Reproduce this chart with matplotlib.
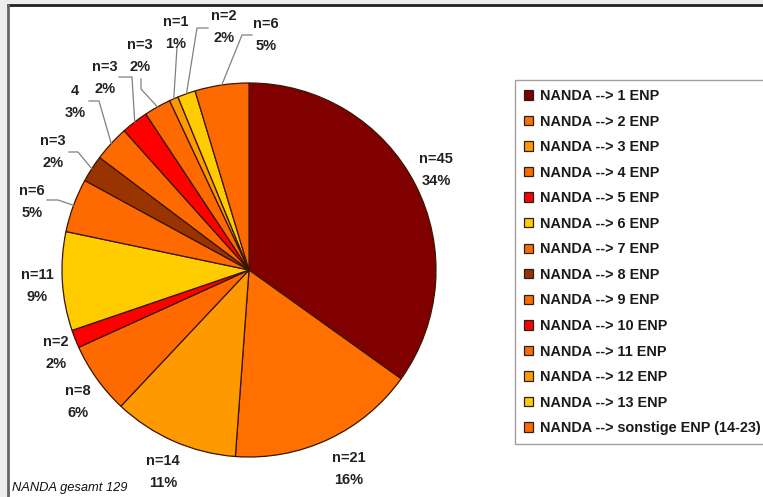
import numpy as np
import matplotlib
matplotlib.use("Agg")
import matplotlib.pyplot as plt
from matplotlib.patches import Patch, Rectangle

plt.rcParams["font.family"] = ["Liberation Sans", "DejaVu Sans"]

# NANDA -> number of ENP, counts per group
categories = ["NANDA --> 1 ENP", "NANDA --> 2 ENP", "NANDA --> 3 ENP", "NANDA --> 4 ENP",
              "NANDA --> 5 ENP", "NANDA --> 6 ENP", "NANDA --> 7 ENP", "NANDA --> 8 ENP",
              "NANDA --> 9 ENP", "NANDA --> 10 ENP", "NANDA --> 11 ENP", "NANDA --> 12 ENP",
              "NANDA --> 13 ENP", "NANDA --> sonstige ENP (14-23)"]
counts = [45, 21, 14, 8, 2, 11, 6, 3, 4, 3, 3, 1, 2, 6]
count_labels = ["n=45", "n=21", "n=14", "n=8", "n=2", "n=11", "n=6", "n=3", "4", "n=3", "n=3",
                "n=1", "n=2", "n=6"]
pct_labels = ["34%", "16%", "11%", "6%", "2%", "9%", "5%", "2%", "3%", "2%", "2%", "1%", "2%", "5%"]
colors = ["#800000", "#ff7000", "#ff9900", "#ff6a00", "#ff0000", "#ffcc00", "#ff6a00",
          "#993300", "#ff6a00", "#ff0000", "#ff6a00", "#ff9900", "#ffcc00", "#ff6a00"]

W, H = 763, 497
fig = plt.figure(figsize=(W / 100, H / 100), dpi=100)
fig.patch.set_facecolor("#eeeeee")
ax = fig.add_axes([0, 0, 1, 1])

# white plot area with dark top / left frame
ax.add_patch(Rectangle((8, -5), W, H, facecolor="white", edgecolor="none", zorder=0))
ax.plot([8, W], [H - 5, H - 5], color="#222222", lw=2, zorder=1)
ax.plot([8, 8], [0, H - 5], color="#666666", lw=2, zorder=1)

cx, cy, r = 249, H - 270, 187
wedges, _ = ax.pie(counts, colors=colors, startangle=90, counterclock=False,
                   center=(cx, cy), radius=r, frame=True,
                   wedgeprops=dict(edgecolor="#3a1500", linewidth=0.9))
ax.set_xlim(0, W)
ax.set_ylim(0, H)
ax.set_aspect("equal")
ax.axis("off")

# label centres (pixels from top-left) and leader line elbows
label_pos = [(436, 170), (349, 469), (163, 472), (78, 402), (56, 353), (37, 286), (32, 202),
             (53, 152), (75, 102), (105, 78), (140, 56), (176, 33), (224, 27), (266, 35)]
leaders = {6: [(58, 200), (47, 200)],
           7: [(78, 152), (69, 152)],
           8: [(99, 101), (89, 101)],
           9: [(132, 77), (119, 77)],
           10: [(141, 89), (141, 79)],
           11: [(177, 47)],
           12: [(197, 28), (208, 28)],
           13: [(242, 35), (252, 35)]}

for i, w in enumerate(wedges):
    mid = np.deg2rad((w.theta1 + w.theta2) / 2)
    if i in leaders:
        xs = [cx + r * np.cos(mid)] + [p[0] for p in leaders[i]]
        ys = [cy + r * np.sin(mid)] + [H - p[1] for p in leaders[i]]
        ax.plot(xs, ys, color="#808080", lw=0.9, zorder=3)
    lx, ly = label_pos[i]
    ax.text(lx, H - ly, count_labels[i] + "\n" + pct_labels[i], ha="center", va="center",
            fontsize=10.5, fontweight="bold", color="#222222", linespacing=1.7)

ax.text(12, 9, "NANDA gesamt 129", fontsize=9.3, fontstyle="italic", color="#111111",
        ha="left", va="center")

handles = [Patch(facecolor=c, edgecolor="#222222", linewidth=0.9) for c in colors]
leg = ax.legend(handles, categories, loc="upper left", bbox_to_anchor=(515 / W, 1 - 80 / H),
                bbox_transform=fig.transFigure, frameon=True, fancybox=False,
                prop=dict(size=10.4, weight="bold"), handlelength=0.62, handleheight=0.62,
                handletextpad=0.48, labelspacing=0.8, borderpad=0.62, borderaxespad=0)
leg.get_frame().set_edgecolor("#888888")
leg.get_frame().set_linewidth(1.0)
for t in leg.get_texts():
    t.set_color("#1a1a1a")

fig.savefig("out.png", dpi=100, facecolor=fig.get_facecolor())
